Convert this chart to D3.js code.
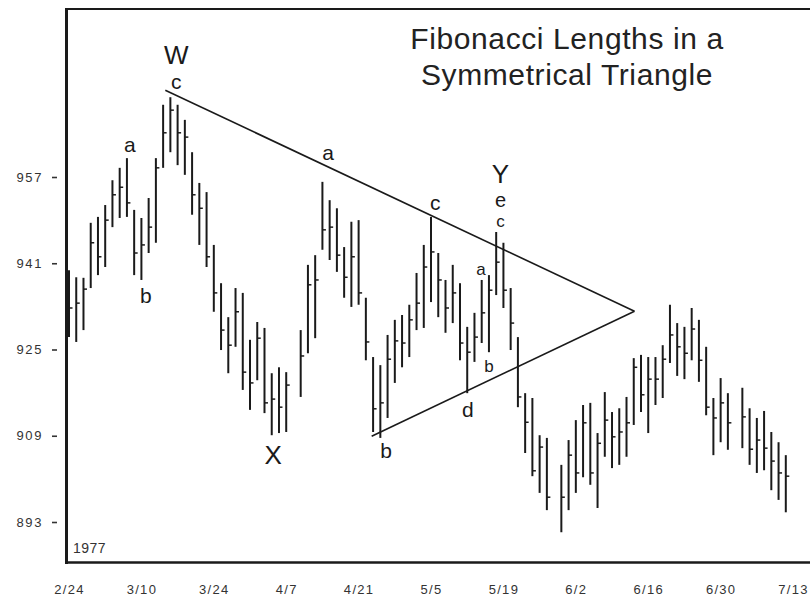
<!DOCTYPE html>
<html>
<head>
<meta charset="utf-8">
<script src="https://cdn.jsdelivr.net/npm/d3@7/dist/d3.min.js"></script>
<style>
  html, body { margin: 0; padding: 0; background: #fff; }
  svg { display: block; }
  text { font-family: "Liberation Sans", Arial, Helvetica, sans-serif; }
</style>
</head>
<body>
<script>
// Daily Dow Jones Industrial Average, 2/24/1977 - 7/13/1977.
// One slot per weekday; market holidays (Good Friday, Memorial Day, July 4) are null.
const highs = [
  939.7, 938.4, 938.3, 948.5, 949.6, 951.8, 956.4, 958.7, 960.5, 950.9,
  949.4, 953.1, 960.5, 970.4, 971.8, 970.4, 967.6, 961.6, 955.9, 954.2,
  944.4, 937.3, 931.0, 936.4, 935.5, 926.8, 930.1, 929.0, 920.6, 921.7,
  920.8, null, 928.6, 940.7, 942.5, 956.1, 952.7, 951.2, 944.0, 948.7,
  949.0, 934.6, 923.6, 922.1, 927.7, 930.5, 931.4, 933.3, 939.2, 944.4,
  949.6, 942.9, 937.9, 940.7, 937.3, 929.2, 931.8, 937.9, 938.8, 946.8,
  944.8, 936.4, 927.3, 916.9, 916.0, 909.1, 908.6, null, 903.6, 908.2,
  911.9, 914.7, 915.1, 909.5, 917.1, 913.4, 914.1, 916.2, 923.4, 924.0,
  923.6, 923.6, 925.8, 933.3, 929.9, 929.2, 932.7, 930.5, 925.5, 916.0,
  919.7, 916.9, null, 917.9, 914.1, 912.3, 913.6, 909.7, 907.8, 905.4
];
const lows = [
  927.3, 926.4, 928.6, 936.4, 938.8, 940.3, 947.7, 949.4, 949.6, 938.8,
  937.9, 942.9, 944.8, 958.7, 961.6, 959.2, 957.4, 950.0, 944.4, 940.3,
  932.0, 924.9, 920.6, 925.5, 917.5, 913.8, 919.3, 913.2, 909.1, 909.5,
  909.7, null, 916.2, 924.3, 927.1, 943.5, 941.6, 939.4, 934.6, 932.9,
  933.3, 923.0, 909.7, 908.6, 912.3, 918.8, 921.7, 923.6, 928.6, 929.0,
  933.8, 931.0, 928.1, 929.9, 923.0, 916.9, 922.7, 926.2, 924.5, 935.1,
  932.7, 924.9, 914.3, 905.8, 901.5, 898.4, 895.2, null, 891.1, 895.2,
  898.4, 901.3, 899.9, 895.6, 905.1, 903.0, 903.6, 905.1, 911.0, 913.4,
  909.5, 914.7, 916.0, 922.5, 920.1, 919.5, 923.0, 919.0, 912.8, 905.4,
  907.8, 906.4, null, 906.7, 903.6, 902.1, 902.6, 898.9, 897.1, 894.8
];
const closes = [
  932.7, 933.6, 936.2, 944.8, 942.2, 949.0, 953.7, 955.1, 952.2, 942.9,
  944.4, 947.7, 958.7, 965.2, 969.4, 965.2, 964.4, 953.7, 951.2, 942.2,
  935.5, 928.6, 925.8, 932.0, 920.8, 918.8, 927.1, 915.1, 915.8, 914.3,
  918.4, null, 923.8, 937.0, 937.9, 947.2, 947.7, 942.5, 938.4, 942.2,
  935.5, 926.4, 914.0, 915.1, 923.2, 926.6, 926.2, 930.5, 933.6, 940.3,
  943.1, 937.9, 932.7, 935.5, 926.2, 924.5, 927.3, 931.8, 936.0, 941.2,
  936.0, 929.9, 916.2, 911.5, 902.5, 906.9, 897.6, null, 897.6, 905.4,
  902.1, 911.4, 902.1, 907.6, 911.9, 908.8, 909.7, 911.4, 921.7, 916.6,
  919.5, 919.5, 923.2, 927.7, 925.5, 924.3, 928.8, 923.0, 914.3, 912.3,
  915.1, 911.4, null, 912.5, 906.5, 908.2, 906.7, 904.3, 902.1, 901.5
];

// Axis ticks
const yTicks = [893, 909, 925, 941, 957];
const xTickDays = [0, 10, 20, 30, 40, 50, 60, 70, 80, 90, 100];
const xTickLabels = ["2/24", "3/10", "3/24", "4/7", "4/21", "5/5", "5/19", "6/2", "6/16", "6/30", "7/13"];

// Triangle boundaries as [day, price] pairs
const upperLine = [[13.3, 973.1], [78.1, 932.1]];
const lowerLine = [[41.8, 908.9], [78.1, 932.1]];

// Wave annotations: stacked text (top to bottom), day, price at first baseline
const noteText  = [["W", "c"], ["a"], ["b"], ["X"], ["a"], ["c"], ["Y", "e", "c"], ["a"], ["b"], ["d"], ["b"]];
const noteDay   = [14.8, 8.4, 10.6, 28.2, 35.8, 50.6, 59.6, 56.9, 58.0, 55.1, 43.8];
const notePrice = [978.0, 961.6, 933.6, 903.8, 960.2, 950.9, 955.9, 938.8, 920.8, 912.5, 904.9];
const noteTier  = [["big", "mid"], ["mid"], ["mid"], ["big"], ["mid"], ["mid"], ["big", "tiny", "small"],
                   ["small"], ["small"], ["mid"], ["mid"]];

const titleLines = ["Fibonacci Lengths in a", "Symmetrical Triangle"];
const yearLabel = "1977";

const W = 810, H = 601;
const ink = "#1a1a1a";

const svg = d3.select("body").append("svg")
  .attr("width", W).attr("height", H)
  .style("background", "#fff");

const x = d3.scaleLinear().domain([0, 99]).range([69, 785.8]);
const y = d3.scaleLinear().domain([893, 957]).range([522, 177]);

// Frame: heavy left and bottom rules, lighter top rule, open on the right
svg.append("line").attr("x1", 66.5).attr("x2", 66.5).attr("y1", 8).attr("y2", 564)
  .attr("stroke", ink).attr("stroke-width", 3);
svg.append("line").attr("x1", 65).attr("x2", W).attr("y1", 9).attr("y2", 9)
  .attr("stroke", ink).attr("stroke-width", 2);
svg.append("line").attr("x1", 65).attr("x2", W).attr("y1", 562.5).attr("y2", 562.5)
  .attr("stroke", ink).attr("stroke-width", 2.5);

// Price axis
const yAxis = svg.append("g")
  .attr("transform", "translate(57,0)")
  .call(d3.axisLeft(y).tickValues(yTicks).tickSize(5).tickPadding(9).tickFormat(d3.format("d")));
yAxis.select(".domain").remove();
yAxis.selectAll(".tick line").attr("stroke", "#333").attr("stroke-width", 1.6);
yAxis.selectAll(".tick text")
  .attr("fill", "#333").style("font-size", "13px").style("letter-spacing", "1.6px")
  .style("font-family", "'Liberation Sans', Arial, sans-serif");

// Date axis
const xAxis = svg.append("g")
  .attr("transform", "translate(0,575)")
  .call(d3.axisBottom(x).tickValues(xTickDays).tickSize(0).tickPadding(10)
    .tickFormat((d, i) => xTickLabels[i]));
xAxis.select(".domain").remove();
xAxis.selectAll(".tick text")
  .attr("fill", "#333").style("font-size", "13px").style("letter-spacing", "1.3px")
  .style("font-family", "'Liberation Sans', Arial, sans-serif");

// Year tag inside the frame
svg.append("text").attr("x", 73).attr("y", 553)
  .attr("fill", "#333").style("font-size", "14px").style("letter-spacing", "0.5px")
  .text(yearLabel);

// High-low bars with closing ticks
const days = d3.range(highs.length).filter(i => highs[i] != null);
const bars = svg.append("g").attr("stroke", ink);
bars.selectAll("line.hl").data(days).join("line")
  .attr("class", "hl")
  .attr("x1", i => x(i)).attr("x2", i => x(i))
  .attr("y1", i => y(highs[i])).attr("y2", i => y(lows[i]))
  .attr("stroke-width", 2);
bars.selectAll("line.cl").data(days).join("line")
  .attr("class", "cl")
  .attr("x1", i => x(i)).attr("x2", i => x(i) + 3.5)
  .attr("y1", i => y(closes[i])).attr("y2", i => y(closes[i]))
  .attr("stroke-width", 1.5);

// Triangle boundaries
const trend = d3.line().x(d => x(d[0])).y(d => y(d[1]));
svg.append("path").attr("d", trend(upperLine))
  .attr("fill", "none").attr("stroke", ink).attr("stroke-width", 1.6);
svg.append("path").attr("d", trend(lowerLine))
  .attr("fill", "none").attr("stroke", ink).attr("stroke-width", 1.6);

// Wave labels; stacked lines are spaced so their font boxes just clear each other
const tierSize = { big: 26, mid: 21, tiny: 20, small: 17 };
const ASC = 0.905, DESC = 0.212;
svg.append("g").selectAll("text").data(noteText).join("text")
  .attr("x", (d, i) => x(noteDay[i]))
  .attr("y", (d, i) => y(notePrice[i]))
  .attr("text-anchor", "middle")
  .attr("fill", ink)
  .each(function (lines, i) {
    const t = d3.select(this);
    lines.forEach((s, k) => {
      const size = tierSize[noteTier[i][k]];
      const prev = k === 0 ? 0 : tierSize[noteTier[i][k - 1]];
      t.append("tspan")
        .attr("x", x(noteDay[i]))
        .attr("dy", k === 0 ? 0 : prev * DESC + size * ASC + 0.5)
        .style("font-size", size + "px")
        .text(s);
    });
  });

// Title
svg.append("g").selectAll("text").data(titleLines).join("text")
  .attr("x", 567).attr("y", (d, i) => 49 + i * 36)
  .attr("text-anchor", "middle")
  .attr("fill", "#222")
  .style("font-size", "30px").style("letter-spacing", "0.6px")
  .text(d => d);
</script>
</body>
</html>
